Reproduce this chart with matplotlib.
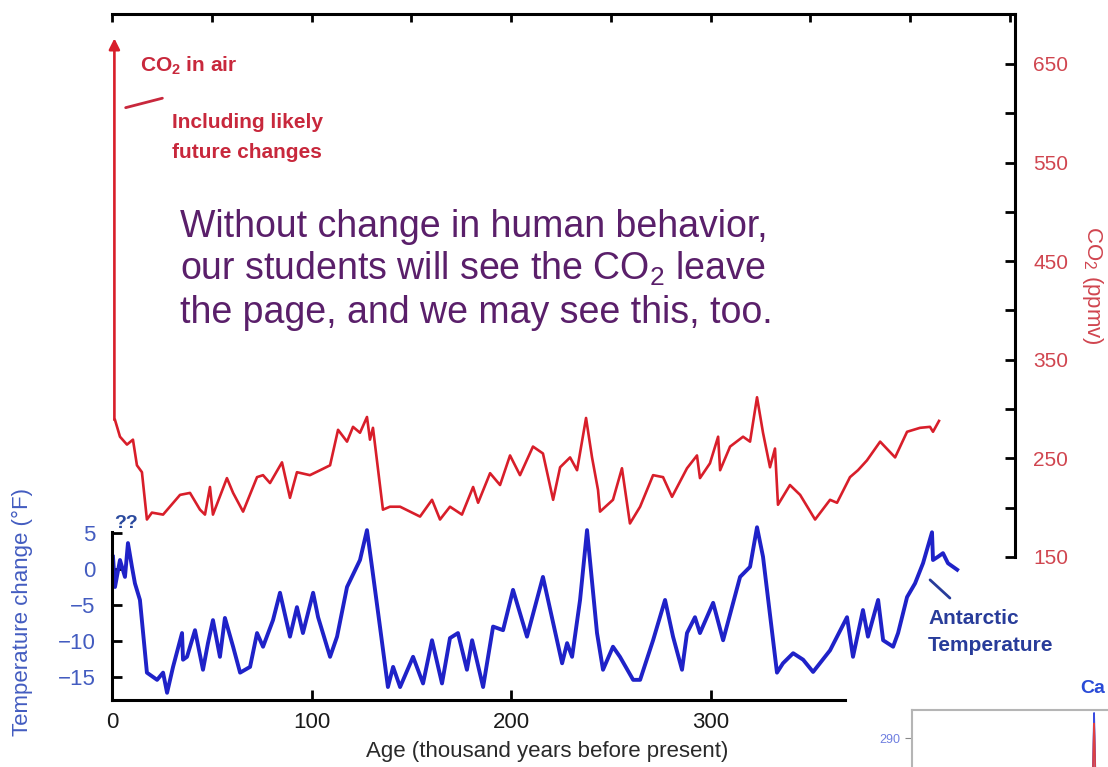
import numpy as np
import matplotlib
matplotlib.use("Agg")
import matplotlib.pyplot as plt

plt.rcParams['font.family'] = ['Liberation Sans', 'DejaVu Sans']
plt.rcParams['mathtext.default'] = 'regular'

# CO2 no ar (ppmv) x idade (mil anos antes do presente)
co2_age = [1.5, 4.0, 7.5, 10.5, 12.5, 15.0, 17.5, 20.0, 25.6, 34.1, 39.1, 44.1, 46.6,
           49.1, 50.6, 57.6, 60.7, 65.7, 72.7, 75.7, 79.2, 85.2, 89.2, 92.7, 99.2,
           104.3, 109.3, 113.3, 117.8, 120.8, 124.3, 127.8, 129.3, 130.8, 135.8,
           139.3, 144.4, 154.4, 160.4, 164.4, 169.4, 175.4, 181.0, 183.5, 189.5,
           194.5, 199.5, 204.5, 211.0, 216.0, 221.1, 224.6, 229.6, 233.1, 237.6,
           240.6, 243.6, 244.6, 251.1, 255.6, 259.6, 264.7, 271.2, 276.2, 280.7,
           288.2, 293.2, 294.7, 299.7, 303.8, 304.8, 309.8, 316.3, 319.8, 323.3,
           326.3, 329.8, 332.3, 333.8, 339.8, 344.9, 352.4, 359.9, 363.4, 369.9,
           373.9, 378.4, 385.0, 392.5, 398.5, 405.0, 410.0, 411.5, 414.5]
co2_ppmv = [289, 272, 264, 269, 243, 236, 188, 195, 193, 213, 215, 198, 193,
            221, 193, 230, 215, 196, 231, 233, 225, 246, 210, 236, 233,
            238, 243, 279, 267, 282, 276, 292, 269, 281, 198,
            201, 201, 191, 208, 188, 201, 193, 221, 205, 235,
            223, 253, 233, 262, 255, 208, 241, 251, 238, 291,
            251, 218, 196, 208, 240, 184, 201, 233, 231, 211,
            240, 253, 230, 245, 272, 238, 262, 272, 267, 312,
            276, 241, 260, 203, 223, 213, 188, 208, 205, 231,
            238, 248, 267, 251, 277, 281, 282, 277, 288]

# subida futura provavel (a seta vermelha)
future_age = [1.2, 1.2]
future_co2 = [289, 676]

# temperatura antartica (graus F)
temp_age = [0.5, 1.5, 4.0, 6.5, 8.0, 10.0, 11.5, 14.0, 17.5, 22.6, 25.6, 27.6, 30.6,
            35.1, 35.6, 37.6, 41.6, 45.6, 48.1, 50.6, 54.1, 56.6, 60.7, 64.2, 69.2,
            72.7, 75.7, 80.7, 84.2, 89.2, 92.7, 95.7, 100.8, 103.3, 106.8, 109.3,
            112.8, 117.8, 124.3, 127.8, 130.3, 134.3, 138.3, 140.9, 144.4, 150.9,
            155.9, 160.4, 165.4, 169.4, 173.4, 177.9, 180.5, 186.0, 191.0, 196.0,
            201.0, 208.0, 216.0, 225.6, 228.1, 230.6, 234.6, 238.1, 243.1, 246.1,
            251.1, 254.6, 261.2, 264.7, 271.2, 277.2, 281.2, 285.7, 288.2, 292.2,
            294.7, 301.3, 306.3, 314.8, 319.8, 323.3, 326.3, 333.3, 336.3, 341.4,
            346.4, 351.4, 359.9, 368.4, 371.4, 376.4, 378.9, 384.0, 386.5, 391.5,
            394.0, 398.5, 402.5, 406.5, 411.0, 411.5, 414.0, 416.5, 419.0, 423.6]
temp_f = [1.7, -2.5, 1.25, -1.1, 3.6, 0.3, -2.0, -4.3, -14.4, -15.4, -14.4, -17.2, -13.6,
          -8.9, -12.6, -12.2, -8.5, -14.0, -10.3, -7.1, -12.2, -6.8, -10.8, -14.4, -13.6,
          -8.9, -10.8, -7.1, -3.3, -9.4, -5.3, -8.9, -3.3, -6.7, -9.9, -12.2,
          -9.4, -2.5, 1.25, 5.4, 0.3, -8.0, -16.4, -13.6, -16.4, -12.2,
          -15.9, -9.9, -15.9, -9.6, -8.9, -14.0, -9.9, -16.4, -8.0, -8.5,
          -2.9, -9.4, -1.1, -13.1, -10.3, -12.2, -4.3, 5.4, -8.9, -14.0,
          -10.8, -12.2, -15.4, -15.4, -9.9, -4.3, -9.4, -14.0, -8.9, -6.7,
          -8.9, -4.7, -9.9, -1.1, 0.3, 5.8, 1.7, -14.4, -13.1, -11.7,
          -12.6, -14.3, -11.3, -6.7, -12.2, -5.7, -9.4, -4.3, -9.9, -10.8,
          -8.9, -3.9, -2.0, 0.8, 5.1, 1.25, 1.7, 2.2, 0.8, -0.1]

temp_ticks = [-15, -10, -5, 0, 5]
age_ticks = [0, 100, 200, 300]
co2_ticks = list(range(150, 651, 50))

# pedaco do outro grafico que aparece no canto
inset_x = [0.915, 0.922, 0.926, 0.929, 0.932, 0.936, 0.943]
inset_blue = [230, 250, 290, 316, 292, 250, 230]
inset_red = [228, 245, 284, 305, 286, 246, 228]

RED = '#d81e2a'
BLUE = '#1f22c8'
W, H = 1108, 767


def fx(x):
    return x / W


def fy(y):
    return 1 - y / H


fig = plt.figure(figsize=(W / 100, H / 100), dpi=100)

# eixo do CO2 (em cima, escala a direita)
ax_c = fig.add_axes([fx(112), fy(557), (1015 - 112) / W, (557 - 14) / H])
ax_c.patch.set_alpha(0)
ax_c.set_xlim(0, 452.6)
ax_c.set_ylim(150, 700.7)
for side in ['left', 'bottom']:
    ax_c.spines[side].set_visible(False)
for side in ['top', 'right']:
    ax_c.spines[side].set_linewidth(2.2)
ax_c.xaxis.tick_top()
ax_c.set_xticks(np.arange(0, 451, 50))
ax_c.tick_params(axis='x', direction='in', length=6, width=2, labeltop=False, labelbottom=False)
ax_c.yaxis.tick_right()
ax_c.set_yticks(co2_ticks)
ax_c.set_yticklabels([str(v) if v % 100 == 50 else '' for v in co2_ticks])
ax_c.tick_params(axis='y', direction='in', length=7, width=2, pad=13,
                 labelsize=15, labelcolor='#d0454f')

ax_c.plot(co2_age, co2_ppmv, color=RED, lw=1.9, clip_on=False)
ax_c.annotate('', xy=(future_age[1], future_co2[1]), xytext=(future_age[0], future_co2[0]),
              arrowprops=dict(arrowstyle='-|>', color=RED, lw=1.9, mutation_scale=16,
                              shrinkA=0, shrinkB=0))

# eixo da temperatura (embaixo)
ax_t = fig.add_axes([fx(112), fy(700), (1015 - 112) / W, (700 - 532) / H])
ax_t.patch.set_alpha(0)
ax_t.set_xlim(0, 452.6)
ax_t.set_ylim(-18.2, 5.14)
for side in ['top', 'right']:
    ax_t.spines[side].set_visible(False)
for side in ['left', 'bottom']:
    ax_t.spines[side].set_linewidth(2.2)
ax_t.spines['bottom'].set_bounds(0, 367.4)
ax_t.set_xticks(age_ticks)
ax_t.tick_params(axis='x', direction='in', length=7, width=2, pad=9, labelsize=16,
                 labelcolor='#1a1a1a')
ax_t.set_yticks(temp_ticks)
ax_t.tick_params(axis='y', direction='in', length=7, width=2, pad=12, labelsize=16,
                 labelcolor='#435cc0')
ax_t.plot(temp_age, temp_f, color=BLUE, lw=2.8, clip_on=False)

# textos
fig.text(fx(547), fy(757), 'Age (thousand years before present)', ha='center',
         va='baseline', fontsize=16, color='#2a2a2a')
fig.text(fx(22), fy(612), 'Temperature change (°F)', rotation=90, ha='center',
         va='center', fontsize=16, color='#435cc0')
fig.text(fx(1092), fy(285), 'CO$_2$ (ppmv)', rotation=270, ha='center', va='center',
         fontsize=16, color='#d0454f')

fig.text(fx(140), fy(72), 'CO$_2$ in air', fontsize=15, fontweight='bold',
         color='#c8283c', va='baseline')
fig.text(fx(172), fy(128), 'Including likely', fontsize=15, fontweight='bold',
         color='#c8283c', va='baseline')
fig.text(fx(172), fy(158), 'future changes', fontsize=15, fontweight='bold',
         color='#c8283c', va='baseline')
ax_c.annotate('', xy=(5.5, 605), xytext=(26.6, 616),
              arrowprops=dict(arrowstyle='-', color='#c8283c', lw=2))

PURPLE = '#5a1f6a'
fig.text(fx(180), fy(237), 'Without change in human behavior,', fontsize=27,
         color=PURPLE, va='baseline')
fig.text(fx(180), fy(280), 'our students will see the CO$_2$ leave', fontsize=27,
         color=PURPLE, va='baseline')
fig.text(fx(180), fy(323), 'the page, and we may see this, too.', fontsize=27,
         color=PURPLE, va='baseline')

fig.text(fx(114), fy(528), '??', fontsize=14, fontweight='bold', color='#2b4a9e',
         va='baseline')
fig.text(fx(928), fy(624), 'Antarctic', fontsize=15, fontweight='bold', color='#283c9a',
         va='baseline')
fig.text(fx(928), fy(651), 'Temperature', fontsize=15, fontweight='bold', color='#283c9a',
         va='baseline')
ax_t.annotate('', xy=(409, -1.25), xytext=(421, -4.3), annotation_clip=False,
              arrowprops=dict(arrowstyle='-', color='#283c9a', lw=2))

# recorte do outro grafico no canto inferior direito
ax_i = fig.add_axes([fx(912), 0, (W - 912) / W, (767 - 710) / H])
ax_i.set_xlim(0, 1)
ax_i.set_ylim(260, 319)
for side in ['right', 'bottom']:
    ax_i.spines[side].set_visible(False)
for side in ['top', 'left']:
    ax_i.spines[side].set_color('#b5b5b5')
    ax_i.spines[side].set_linewidth(1.5)
ax_i.set_xticks([])
ax_i.set_yticks([290])
ax_i.tick_params(axis='y', length=5, color='#888888', labelsize=9, labelcolor='#6f7fe0')
ax_i.plot(inset_x, inset_blue, color='#3a4be0', lw=1.2)
ax_i.plot(inset_x, inset_red, color='#e04040', lw=1.2)
fig.text(fx(1080), fy(693), 'Ca', fontsize=14, fontweight='bold', color='#2a4bd7',
         va='baseline')

fig.savefig('out.png', dpi=100)
